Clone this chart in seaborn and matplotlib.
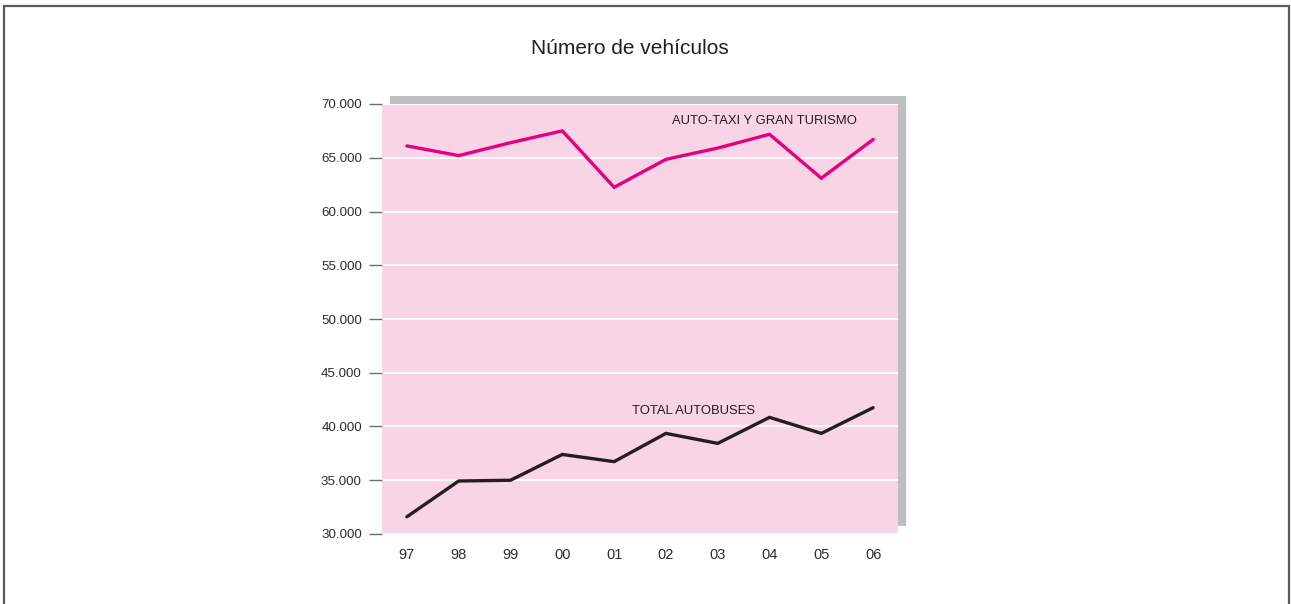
import matplotlib
matplotlib.use("Agg")
import matplotlib.pyplot as plt
import matplotlib.font_manager as fm
from matplotlib.patches import Rectangle
from matplotlib.lines import Line2D
import numpy as np
import pandas as pd
import seaborn as sns

# Data
years = ["97", "98", "99", "00", "01", "02", "03", "04", "05", "06"]
auto_taxi = [66100, 65200, 66400, 67500, 62250, 64850, 65900, 67180, 63100, 66700]
autobuses = [31600, 34930, 35000, 37400, 36730, 39360, 38430, 40850, 39360, 41750]
series_names = ["AUTO-TAXI Y GRAN TURISMO", "TOTAL AUTOBUSES"]
y_ticks = [30000, 35000, 40000, 45000, 50000, 55000, 60000, 65000, 70000]
title = "Número de vehículos"

PINK_BG = "#F9D4E6"
SHADOW = "#BCBEC0"
MAGENTA = "#E5007E"
DARK = "#231F20"

sns.set_theme(style="white")
available = {f.name for f in fm.fontManager.ttflist}
narrow = "Liberation Sans Narrow" if "Liberation Sans Narrow" in available else "Liberation Sans"
plt.rcParams["font.family"] = ["Liberation Sans", "DejaVu Sans"]

df = pd.DataFrame({
    "pos": list(range(len(years))) * 2,
    "value": auto_taxi + autobuses,
    "serie": [series_names[0]] * len(years) + [series_names[1]] * len(years),
})

W, H = 1291, 604
fig = plt.figure(figsize=(W / 100, H / 100), dpi=100)
fig.patch.set_facecolor("white")

ax_l, ax_r, ax_t, ax_b = 382, 898, 104, 534
ax = fig.add_axes([ax_l / W, (H - ax_b) / H, (ax_r - ax_l) / W, (ax_b - ax_t) / H])
ax.set_zorder(1)

# Drop shadow behind the plotting area
fig.add_artist(Rectangle(((ax_l + 8) / W, (H - ax_b + 8) / H), (ax_r - ax_l) / W, (ax_b - ax_t) / H,
                         transform=fig.transFigure, facecolor=SHADOW, edgecolor="none", zorder=0))

ax.set_facecolor(PINK_BG)
sns.lineplot(data=df, x="pos", y="value", hue="serie",
             palette={series_names[0]: MAGENTA, series_names[1]: DARK},
             linewidth=2.4, legend=False, ax=ax, zorder=3)
for ln in ax.lines:
    ln.set_solid_capstyle("round")
    ln.set_solid_joinstyle("miter")

ax.set_ylim(30000, 70000)
ax.set_xlim(-0.48, len(years) - 1 + 0.48)
ax.set_yticks(y_ticks)
ax.set_yticklabels([f"{v:,}".replace(",", ".") for v in y_ticks])
ax.set_xticks(range(len(years)))
ax.set_xticklabels(years)
ax.grid(axis="y", color="white", linewidth=1.3, zorder=1)
ax.grid(axis="x", visible=False)
ax.set_axisbelow(True)
for s in ax.spines.values():
    s.set_visible(False)
ax.set_xlabel("")
ax.set_ylabel("")
ax.tick_params(axis="y", which="major", left=True, length=9.5, width=1.0, color="#6D6E71",
               pad=5, labelsize=9.6, labelcolor="#2E2E2E")
ax.tick_params(axis="x", which="major", bottom=False, length=0, pad=10, labelsize=10.5,
               labelcolor="#2E2E2E")
for lab in ax.get_xticklabels() + ax.get_yticklabels():
    lab.set_fontfamily(narrow)

ax.text((672 - ax_l) / (ax_r - ax_l), (ax_b - 121) / (ax_b - ax_t), series_names[0],
        transform=ax.transAxes, ha="left", va="center", fontsize=9.4, color=DARK)
ax.text((632 - ax_l) / (ax_r - ax_l), (ax_b - 411) / (ax_b - ax_t), series_names[1],
        transform=ax.transAxes, ha="left", va="center", fontsize=9.4, color=DARK)

fig.text(630 / W, (H - 48) / H, title, ha="center", va="center", fontsize=15, color=DARK)

# Outer frame: left, top and right edges
fx0, fx1, fy = 3.8 / W, 1288.8 / W, (H - 5.5) / H
fig.add_artist(Line2D([fx0, fx0, fx1, fx1], [0, fy, fy, 0], transform=fig.transFigure,
                      color="#5A5A5C", linewidth=1.6, solid_joinstyle="miter"))

fig.savefig("out.png", dpi=100, facecolor="white")
